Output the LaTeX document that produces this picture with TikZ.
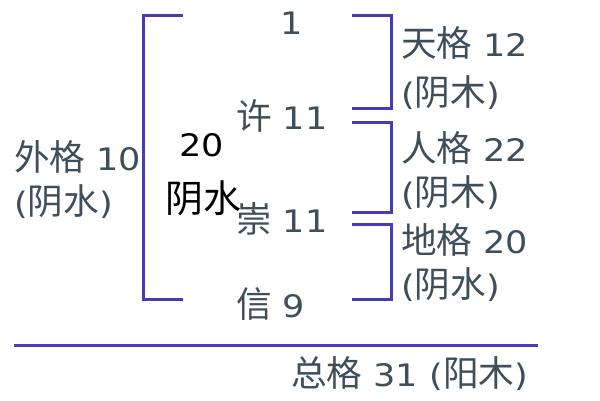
\documentclass[tikz,border=0pt]{standalone}
\usepackage{fontspec}
\setmainfont{DejaVu Sans}[FakeStretch=1.13]
\newfontfamily\cjk{Noto Sans CJK SC}[Scale=1.15]
\newcommand\zh[1]{{\cjk #1}}
\definecolor{linec}{RGB}{72,60,180}
\definecolor{txtc}{RGB}{62,78,90}
\tikzset{
  lbl/.style={font=\fontsize{31}{36}\selectfont, text=txtc, inner sep=0pt, anchor=base west},
  blk/.style={font=\fontsize{31}{36}\selectfont, text=black, inner sep=0pt},
  brk/.style={draw=linec, line width=3pt}
}
\begin{document}
\begin{tikzpicture}[x=1pt,y=-1pt]
\useasboundingbox[fill=white] (0,0) rectangle (600,400);
% brackets
\draw[brk] (183,15) -- (143,15) -- (143,299) -- (183,299);
\draw[brk] (352,15) -- (391,15) -- (391,108) -- (352,108);
\draw[brk] (352,122) -- (391,122) -- (391,212) -- (352,212);
\draw[brk] (352,224) -- (391,224) -- (391,299) -- (352,299);
\draw[brk] (14,345) -- (538,345);
% centre column
\node[lbl, anchor=base] (one) at (292,34) {1};
\node[lbl] (xu) at (236,129) {\zh{许} 11};
\node[lbl] (chong) at (236,232) {\zh{崇} 11};
\node[lbl] (xin) at (236,317) {\zh{信} 9};
\node[blk, anchor=base] (n20) at (202,156) {20};
\node[blk, anchor=base west, font=\fontsize{33}{38}\selectfont] (yinshui) at (165,212) {\zh{阴水}};
% left
\node[lbl] (wai) at (14,170) {\zh{外格} 10};
\node[lbl] (wai2) at (14,214) {(\zh{阴水})};
% right
\node[lbl] (tian) at (401,56) {\zh{天格} 12};
\node[lbl] (tian2) at (401,105) {(\zh{阴木})};
\node[lbl] (ren) at (401,161) {\zh{人格} 22};
\node[lbl] (ren2) at (401,205) {(\zh{阴木})};
\node[lbl] (di) at (401,253) {\zh{地格} 20};
\node[lbl] (di2) at (401,297) {(\zh{阴水})};
% bottom
\node[lbl] (zong) at (291,386) {\zh{总格} 31 (\zh{阳木})};
\end{tikzpicture}
\end{document}
